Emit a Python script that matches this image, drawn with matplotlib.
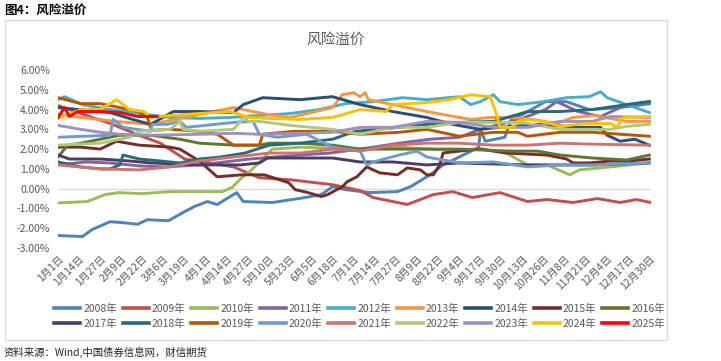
import matplotlib
matplotlib.use("Agg")
import matplotlib.pyplot as plt
from matplotlib.patches import Rectangle

plt.rcParams['font.family'] = ['Noto Sans CJK SC', 'DejaVu Sans']

# ---------------- data (day-of-year index, risk premium %) ----------------
years = ["2008年", "2009年", "2010年", "2011年", "2012年", "2013年", "2014年", "2015年", "2016年",
         "2017年", "2018年", "2019年", "2020年", "2021年", "2022年", "2023年", "2024年", "2025年"]
colors = ["#4F81BD", "#C0504D", "#9BBB59", "#8064A2", "#4BACC6", "#F79646", "#2C4D75", "#772C2A", "#5F7530",
          "#4D3B62", "#276A7C", "#B65708", "#729ACA", "#CD7371", "#AFC97A", "#A18FBC", "#FFC000", "#FF0000"]

d2008 = [0, 15, 21, 32, 40, 49, 55, 68, 78, 84, 92, 98, 105, 110, 114, 132, 152, 162, 169, 177, 192, 209, 217,
         229, 237, 247, 259, 260, 263, 275, 279, 287, 300, 313, 327, 346, 365]
v2008 = [-2.37, -2.42, -2.07, -1.67, -1.72, -1.8, -1.57, -1.62, -1.16, -0.9, -0.65, -0.8, -0.45, -0.2, -0.65,
         -0.7, -0.45, -0.3, 0.1, -0.05, -0.2, -0.15, 0.1, 0.7, 1.2, 1.6, 2.1, 3.0, 2.4, 2.6, 3.5, 3.8, 4.4, 4.4,
         4.0, 4.1, 4.3]
d2009 = [0, 14, 32, 50, 63, 78, 94, 108, 124, 143, 169, 186, 194, 215, 231, 243, 255, 272, 289, 301, 317, 332,
         346, 356, 365]
v2009 = [4.2, 3.8, 3.3, 2.7, 2.3, 1.5, 1.3, 1.1, 0.55, 0.45, 0.2, -0.1, -0.45, -0.8, -0.3, -0.15, -0.45, -0.2,
         -0.65, -0.55, -0.7, -0.5, -0.7, -0.55, -0.7]
d2010 = [0, 18, 29, 37, 52, 60, 70, 84, 101, 107, 110, 113, 117, 121, 126, 132, 150, 180, 210, 240, 262, 276,
         289, 301, 315, 321, 334, 364]
v2010 = [-0.72, -0.65, -0.3, -0.2, -0.25, -0.2, -0.15, -0.15, -0.15, 0.05, 0.3, 0.55, 0.8, 1.1, 1.5, 2.0, 2.1,
         2.0, 2.1, 1.95, 2.0, 1.8, 1.2, 1.2, 0.7, 0.95, 1.05, 1.3]
d2011 = [0, 17, 32, 50, 66, 87, 118, 149, 167, 186, 210, 229, 247, 260, 284, 300, 307, 320, 334, 350, 364]
v2011 = [1.2, 1.35, 1.3, 1.15, 1.1, 1.2, 1.5, 1.7, 1.8, 2.0, 2.3, 2.5, 2.6, 3.0, 3.5, 4.0, 4.4, 3.9, 3.65,
         4.25, 4.4]
d2012 = [0, 4, 15, 32, 50, 69, 87, 106, 124, 143, 161, 177, 194, 212, 227, 247, 254, 260, 268, 272, 283, 299,
         313, 327, 334, 338, 350, 364]
v2012 = [4.5, 4.65, 4.25, 4.0, 3.8, 3.6, 3.55, 3.6, 3.7, 3.8, 4.0, 4.3, 4.4, 4.6, 4.5, 4.65, 4.25, 4.4, 4.75,
         4.4, 4.25, 4.4, 4.6, 4.65, 4.9, 4.6, 4.25, 3.85]
d2013 = [0, 15, 36, 57, 87, 108, 129, 143, 169, 175, 182, 186, 189, 191, 203, 227, 237, 247, 254, 266, 278,
         292, 307, 317, 330, 350, 364]
v2013 = [3.75, 3.6, 3.4, 3.25, 3.75, 4.1, 3.75, 3.6, 4.1, 4.75, 4.85, 4.65, 4.85, 4.5, 4.3, 3.9, 3.75, 3.6,
         3.5, 3.6, 3.6, 3.5, 3.3, 3.6, 3.7, 3.4, 3.4]
d2014 = [0, 32, 46, 57, 71, 87, 108, 114, 126, 149, 169, 186, 206, 227, 243, 260, 272, 297, 321, 334, 338,
         346, 355, 364]
v2014 = [4.1, 3.85, 3.5, 3.25, 3.9, 3.9, 3.85, 4.25, 4.6, 4.5, 4.65, 4.25, 3.9, 3.6, 3.25, 3.0, 3.1, 3.25,
         3.1, 3.1, 2.7, 2.4, 2.5, 2.2]
d2015 = [0, 14, 26, 36, 50, 69, 75, 87, 98, 113, 127, 142, 146, 154, 162, 166, 175, 178, 184, 190, 198, 209,
         215, 223, 227, 231, 235, 237, 247, 260, 276, 301, 313, 317, 327, 340, 352, 364]
v2015 = [2.1, 2.1, 2.0, 2.4, 2.2, 2.1, 2.0, 1.4, 0.6, 0.7, 0.7, 0.3, -0.05, -0.2, -0.4, -0.3, 0.1, 0.35, 0.6,
         1.1, 0.8, 0.7, 1.05, 0.95, 0.7, 0.7, 1.2, 1.8, 1.9, 2.0, 1.8, 1.7, 1.5, 1.3, 1.3, 1.4, 1.4, 1.5]
d2016 = [0, 6, 14, 26, 38, 57, 75, 87, 108, 124, 130, 149, 169, 186, 206, 247, 278, 295, 309, 329, 350, 364]
v2016 = [1.6, 2.2, 2.3, 2.5, 2.7, 2.7, 2.5, 2.3, 2.2, 2.2, 2.3, 2.3, 2.2, 2.0, 2.0, 2.0, 1.9, 1.9, 1.7, 1.55,
         1.45, 1.7]
d2017 = [0, 7, 26, 44, 57, 87, 112, 124, 129, 149, 169, 186, 206, 227, 247, 289, 309, 329, 364]
v2017 = [1.7, 1.5, 1.5, 1.4, 1.3, 1.2, 1.2, 1.3, 1.55, 1.55, 1.55, 1.35, 1.35, 1.2, 1.3, 1.2, 1.2, 1.2, 1.3]
d2018 = [0, 14, 26, 32, 38, 40, 50, 63, 75, 87, 100, 115, 130, 149, 169, 183, 210, 227, 247, 268, 283, 289,
         309, 329, 350, 364]
v2018 = [1.35, 1.1, 1.0, 1.0, 1.2, 1.7, 1.5, 1.4, 1.3, 1.5, 1.6, 1.8, 2.2, 2.3, 2.5, 2.9, 3.1, 3.25, 3.35,
         3.4, 3.75, 3.9, 3.9, 4.0, 4.25, 4.4]
d2019 = [0, 14, 26, 38, 50, 55, 57, 58, 69, 87, 98, 108, 124, 126, 145, 169, 186, 210, 227, 247, 268, 283,
         289, 309, 329, 364]
v2019 = [4.6, 4.3, 4.3, 4.1, 3.9, 3.6, 3.1, 2.95, 3.0, 2.9, 2.75, 2.2, 2.2, 2.75, 2.9, 2.9, 2.75, 2.85, 3.0,
         2.65, 2.85, 2.85, 2.65, 2.85, 2.85, 2.65]
d2020 = [0, 32, 34, 40, 57, 58, 67, 75, 79, 108, 120, 124, 135, 153, 169, 186, 190, 194, 210, 221, 227, 247,
         268, 289, 309, 329, 364]
v2020 = [2.6, 2.7, 3.5, 3.1, 2.9, 3.25, 3.25, 3.4, 3.1, 3.35, 3.4, 2.75, 2.6, 2.75, 2.1, 1.9, 1.2, 1.35, 1.7,
         1.9, 1.6, 1.3, 1.35, 1.1, 1.2, 1.2, 1.3]
d2021 = [0, 26, 50, 69, 87, 108, 130, 149, 169, 186, 206, 227, 247, 268, 289, 309, 329, 364]
v2021 = [1.2, 1.0, 0.95, 1.1, 1.4, 1.6, 1.8, 1.8, 2.0, 1.9, 2.2, 2.3, 2.3, 2.2, 2.2, 2.3, 2.25, 2.2]
d2022 = [0, 26, 44, 50, 69, 75, 77, 87, 108, 115, 117, 124, 143, 169, 186, 206, 227, 247, 268, 283, 289, 309,
         329, 340, 350, 364]
v2022 = [2.2, 2.3, 2.6, 2.9, 3.0, 3.4, 3.0, 2.9, 3.0, 3.65, 3.4, 3.4, 3.2, 3.0, 2.75, 3.1, 3.1, 3.35, 3.35,
         3.35, 3.3, 3.0, 3.0, 3.0, 3.15, 3.25]
d2023 = [0, 14, 26, 38, 57, 87, 108, 124, 149, 169, 186, 206, 227, 247, 268, 289, 309, 329, 340, 364]
v2023 = [3.2, 3.0, 2.85, 2.75, 2.7, 2.75, 2.8, 2.75, 2.8, 2.85, 3.1, 3.1, 3.4, 3.35, 3.1, 3.1, 3.4, 3.4, 3.65,
         3.6]
d2024 = [0, 14, 26, 36, 44, 53, 57, 69, 87, 106, 118, 130, 149, 169, 186, 202, 206, 227, 241, 254, 266, 270,
         272, 280, 283, 289, 301, 309, 326, 340, 344, 348, 364]
v2024 = [3.55, 4.0, 4.0, 4.5, 4.0, 3.9, 3.6, 3.7, 3.8, 3.9, 3.6, 3.55, 3.5, 3.6, 4.0, 3.9, 4.25, 4.35, 4.5,
         4.75, 4.65, 3.75, 3.1, 3.1, 3.4, 3.5, 3.35, 3.15, 3.3, 3.3, 3.1, 3.6, 3.65]
d2025 = [0, 4, 7, 12, 26, 38, 49, 61]
v2025 = [3.6, 4.1, 3.65, 3.9, 3.9, 3.85, 3.65, 3.65]

tick_days = list(range(0, 365, 13))
tick_labels = ["1月1日", "1月14日", "1月27日", "2月9日", "2月22日", "3月6日", "3月19日", "4月1日", "4月14日",
               "4月27日", "5月10日", "5月23日", "6月5日", "6月18日", "7月1日", "7月14日", "7月27日", "8月9日",
               "8月22日", "9月4日", "9月17日", "9月30日", "10月13日", "10月26日", "11月8日", "11月21日",
               "12月4日", "12月17日", "12月30日"]
y_ticks = [-3, -2, -1, 0, 1, 2, 3, 4, 5, 6]

series_days = [d2008, d2009, d2010, d2011, d2012, d2013, d2014, d2015, d2016,
               d2017, d2018, d2019, d2020, d2021, d2022, d2023, d2024, d2025]
series_vals = [v2008, v2009, v2010, v2011, v2012, v2013, v2014, v2015, v2016,
               v2017, v2018, v2019, v2020, v2021, v2022, v2023, v2024, v2025]

# ---------------- figure ----------------
W, H = 721, 361
fig = plt.figure(figsize=(W / 100, H / 100), dpi=100)

def fx(px):
    return px / W

def fy(py):
    return 1 - py / H

# outer chart box
fig.patches.append(Rectangle((fx(5), fy(340)), fx(667) - fx(5), fy(20) - fy(340),
                             transform=fig.transFigure, fill=False, edgecolor="#D9D9D9", linewidth=0.9))

fig.text(fx(4), fy(10), "图4：风险溢价", fontsize=9, fontweight="bold", color="#000000",
         ha="left", va="center")
fig.text(fx(336), fy(40), "风险溢价", fontsize=10.5, color="#595959", ha="center", va="center")
fig.text(fx(4), fy(352), "资料来源：Wind,中国债券信息网，财信期货", fontsize=7.5, color="#222222",
         ha="left", va="center", style="italic")

ax = fig.add_axes([fx(58), fy(248), fx(651) - fx(58), fy(70) - fy(248)])
for days, vals, col, lab in zip(series_days, series_vals, colors, years):
    ax.plot(days, vals, color=col, linewidth=2.1, label=lab, solid_joinstyle="round")

ax.axhline(0, color="#D9D9D9", linewidth=1.0, zorder=0)
ax.set_xlim(0, 365)
ax.set_ylim(-3, 6)
ax.set_yticks(y_ticks)
ax.set_yticklabels([f"{v:.2f}%" for v in y_ticks], fontsize=7.5, color="#595959")
ax.set_xticks(tick_days)
ax.set_xticklabels(tick_labels, rotation=45, ha="right", rotation_mode="anchor", fontsize=7.5,
                   color="#595959")
ax.tick_params(axis="both", length=0)
ax.tick_params(axis="y", pad=6)
ax.tick_params(axis="x", pad=4)
for s in ax.spines.values():
    s.set_visible(False)
ax.patch.set_alpha(0)

# legend: two rows, filled row by row (matplotlib fills column-wise, so interleave)
handles, labels = ax.get_legend_handles_labels()
order = []
for c in range(9):
    order += [c, c + 9]
leg = fig.legend([handles[i] for i in order], [labels[i] for i in order], ncol=9,
                 loc="upper left", bbox_to_anchor=(fx(54), fy(304)), frameon=False,
                 fontsize=7.5, handlelength=2.5, handletextpad=0.3, columnspacing=0.55,
                 labelspacing=0.45, borderaxespad=0, borderpad=0)
for t in leg.get_texts():
    t.set_color("#595959")
for lh in leg.get_lines():
    lh.set_linewidth(2.6)

fig.savefig("out.png", dpi=100)
